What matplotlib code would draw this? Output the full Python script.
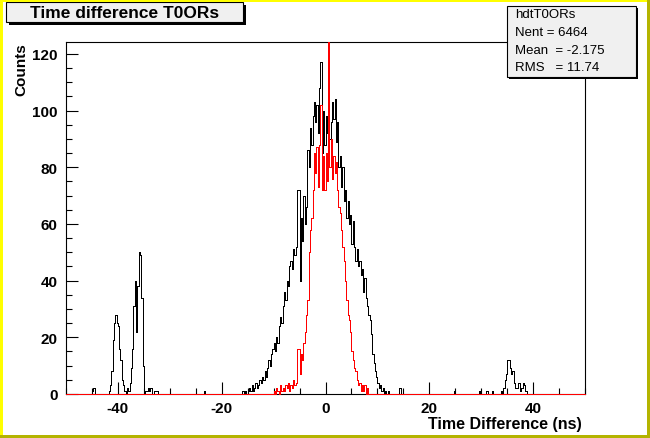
import numpy as np
import matplotlib.pyplot as plt
from matplotlib.patches import Rectangle
from matplotlib.ticker import MultipleLocator

plt.rcParams['font.family'] = ['Liberation Sans', 'DejaVu Sans']
plt.rcParams['axes.unicode_minus'] = False

# histogram binning (ns)
bin_width = 0.25
x_min, x_max = -50.0, 50.0
y_top = 124.2

# black histogram, counts, one value per bin
black_left_start = -42.0
black_left = [0, 1, 3, 8, 19, 25, 28, 25, 24, 16, 12, 5, 3, 1, 0, 2,
              1, 4, 9, 16, 31, 40, 22, 38, 50, 49, 34, 10, 0, 1, 1, 2,
              1, 2, 0, 0, 1, 1, 1, 0]
black_mid_start = -16.0
black_mid = [1, 0, 1, 0, 1, 2, 1, 3, 1, 2, 4, 2, 3, 5, 4, 6,
             5, 8, 6, 9, 12, 10, 14, 16, 18, 15, 20, 18, 24, 27, 25, 31,
             36, 33, 40, 38, 45, 47, 44, 51, 49, 52, 72, 72, 40, 62, 54, 70,
             60, 66, 86, 80, 94, 88, 98, 103, 96, 102, 92, 108, 117, 85, 100, 88,
             98, 92, 101, 90, 96, 103, 97, 104, 89, 96, 80, 84, 73, 80, 68, 72,
             62, 68, 60, 63, 53, 61, 52, 47, 51, 45, 47, 42, 44, 36, 41, 34,
             31, 28, 26, 21, 14, 11, 8, 6, 4, 2, 3, 1, 2, 0, 1, 0]
black_right_start = 33.75
black_right = [1, 0, 2, 5, 7, 12, 12, 9, 7, 8, 4, 2, 2, 4, 4, 1,
               2, 4, 3, 1, 0]
single_x = [-45.0, -44.75, -23.5, 12.0, 14.25, 24.75, 29.5, 31.0, 32.0]
single_n = [1, 2, 1, 1, 2, 1, 1, 1, 1]

# red histogram
red_start = -10.0
red_mid = [1, 0, 2, 1, 0, 3, 1, 2, 1, 3, 2, 4, 1, 3, 2, 5,
           3, 4, 16, 16, 7, 14, 12, 18, 22, 28, 33, 50, 58, 62, 72, 85,
           78, 87, 73, 88, 102, 72, 84, 72, 85, 75, 130, 80, 90, 76, 84, 78,
           82, 72, 66, 64, 58, 52, 47, 40, 33, 28, 26, 22, 15, 12, 9, 8,
           5, 3, 4, 1, 3, 1, 3, 0, 2, 0]

stats_lines = ['hdtT0ORs', 'Nent = 6464', 'Mean  = -2.175', 'RMS   = 11.74']
title = 'Time difference T0ORs'

edges = np.arange(x_min, x_max + bin_width / 2, bin_width)
nbins = len(edges) - 1


def idx(x):
    return int(round((x - x_min) / bin_width))


black = np.zeros(nbins)
for start, vals in [(black_left_start, black_left), (black_mid_start, black_mid),
                    (black_right_start, black_right)]:
    i0 = idx(start)
    black[i0:i0 + len(vals)] = vals
for x, n in zip(single_x, single_n):
    black[idx(x)] = n

red = np.zeros(nbins)
i0 = idx(red_start)
red[i0:i0 + len(red_mid)] = red_mid

W, H = 650, 439
fig = plt.figure(figsize=(W / 100, H / 100), dpi=100)
fig.patch.set_facecolor('white')


def px_rect(x0, y0, x1, y1, **kw):
    r = Rectangle((x0 / W, 1 - y1 / H), (x1 - x0) / W, (y1 - y0) / H,
                  transform=fig.transFigure, **kw)
    fig.add_artist(r)
    return r


ax = fig.add_axes([66 / W, 44 / H, 519 / W, 352 / H])
# unclipped so the zero bins sit fully on the frame line; tall bins cut at the frame top
ax.stairs(np.minimum(black, y_top), edges, color='black', lw=0.72, baseline=None,
          clip_on=False, antialiased=False, zorder=3)
ax.stairs(np.minimum(red, y_top), edges, color='red', lw=0.72, baseline=None,
          clip_on=False, antialiased=False, zorder=4)
ax.set_xlim(x_min, x_max)
ax.set_ylim(0, y_top)

for s in ['top', 'right', 'left', 'bottom']:
    ax.spines[s].set_linewidth(0.8)

ax.xaxis.set_major_locator(MultipleLocator(20))
ax.xaxis.set_minor_locator(MultipleLocator(5))
ax.yaxis.set_major_locator(MultipleLocator(20))
ax.yaxis.set_minor_locator(MultipleLocator(5))
ax.tick_params(which='both', direction='in', top=False, right=False, width=0.8)
ax.tick_params(which='major', length=8.6)
ax.tick_params(which='minor', length=4.3)
ax.tick_params(axis='y', pad=6)
ax.tick_params(axis='x', pad=5)
for lab in ax.get_xticklabels() + ax.get_yticklabels():
    lab.set_fontsize(11)
    lab.set_fontweight('bold')

fig.text(21 / W, 1 - 43 / H, 'Counts', rotation=90, ha='center', va='top',
         fontsize=11, fontweight='bold')
fig.text(582 / W, 1 - 429 / H, 'Time Difference (ns)', ha='right', va='baseline',
         fontsize=11.5, fontweight='bold')

# title box with shadow
px_rect(9, 6, 246, 26, facecolor='black', edgecolor='none', zorder=5)
px_rect(6, 3, 243, 23, facecolor='#f0f0f0', edgecolor='black', lw=0.8, zorder=6)
fig.text(124.5 / W, 1 - 13.5 / H, title, ha='center', va='center',
         fontsize=12.5, fontweight='bold', zorder=7)

# stats box with shadow
px_rect(509, 9, 638, 80, facecolor='black', edgecolor='none', zorder=5)
px_rect(507, 7, 636, 78, facecolor='#f0f0f0', edgecolor='black', lw=0.8, zorder=6)
for k, line in enumerate(stats_lines):
    fig.text(515 / W, 1 - (15.5 + 17.5 * k) / H, line, ha='left', va='center',
             fontsize=9.5, zorder=7)

# canvas border
yellow, olive = '#ffff00', '#b4b400'
px_rect(0, 0, W, 3, facecolor=yellow, edgecolor='none', zorder=8)
px_rect(0, 0, 3, H, facecolor=yellow, edgecolor='none', zorder=8)
px_rect(0, H - 3, W, H, facecolor=olive, edgecolor='none', zorder=8)
px_rect(W - 3, 0, W, H, facecolor=olive, edgecolor='none', zorder=8)

fig.savefig('out.png', dpi=100)
